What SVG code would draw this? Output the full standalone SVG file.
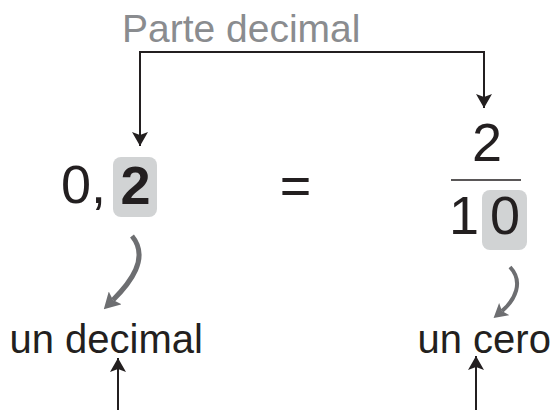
<svg xmlns="http://www.w3.org/2000/svg" width="555" height="410" viewBox="0 0 555 410">
<style>
text{font-family:"Liberation Sans",Arial,sans-serif;fill:#231f20}
.num{font-size:54px}
.lbl{font-size:40px}
.gray{fill:#8a8c8f}
.box{fill:#d1d3d4}
.ln{fill:none;stroke:#231f20;stroke-width:2}
.cv{fill:none;stroke:#6d6e71}
</style>
<defs>
<marker id="ak" viewBox="0 0 14 16" refX="14" refY="8" markerWidth="14" markerHeight="16" markerUnits="userSpaceOnUse" orient="auto-start-reverse">
<path d="M0,0 L14,8 L0,16 L3,8 z" fill="#231f20"/>
</marker>
<marker id="ag" viewBox="0 0 16 18" refX="3" refY="9" markerWidth="16" markerHeight="18" markerUnits="userSpaceOnUse" orient="auto">
<path d="M0,0 L16,9 L0,18 L3,9 z" fill="#6d6e71"/>
</marker>
<marker id="ag2" viewBox="0 0 14 16" refX="3" refY="8" markerWidth="14" markerHeight="16" markerUnits="userSpaceOnUse" orient="auto">
<path d="M0,0 L14,8 L0,16 L3,8 z" fill="#6d6e71"/>
</marker>
</defs>
<g id="title"><text class="gray" x="122" y="42" font-size="39">Parte decimal</text></g>
<g id="decimal">
<rect class="box" x="113" y="157" width="44" height="60" rx="8"/>
<text class="num" x="61" y="203">0,</text>
<text class="num" x="135.5" y="204" text-anchor="middle" font-weight="bold">2</text>
</g>
<g id="equals"><text class="num" x="295.5" y="204" text-anchor="middle">=</text></g>
<g id="fraction">
<text class="num" x="487" y="161" text-anchor="middle">2</text>
<line x1="451" y1="180" x2="521" y2="180" stroke="#231f20" stroke-width="1.5"/>
<rect class="box" x="482" y="190" width="45" height="60" rx="8"/>
<text class="num" x="449" y="234" letter-spacing="11">10</text>
</g>
<g id="undecimal"><text class="lbl" x="9.5" y="353">un decimal</text></g>
<g id="uncero"><text class="lbl" x="417.5" y="353">un cero</text></g>
<g id="connectors">
<path class="ln" d="M140,146 V52 H484 V108" marker-start="url(#ak)" marker-end="url(#ak)"/>
<path class="cv" stroke-width="5" d="M132,236 C150,258 130,283 113,300" marker-end="url(#ag)"/>
<path class="cv" stroke-width="4" d="M510,267 C524,282 515,300 502,311" marker-end="url(#ag2)"/>
<line class="ln" x1="118" y1="410" x2="118" y2="358" marker-end="url(#ak)"/>
<line class="ln" x1="476" y1="410" x2="476" y2="356" marker-end="url(#ak)"/>
</g>
</svg>
